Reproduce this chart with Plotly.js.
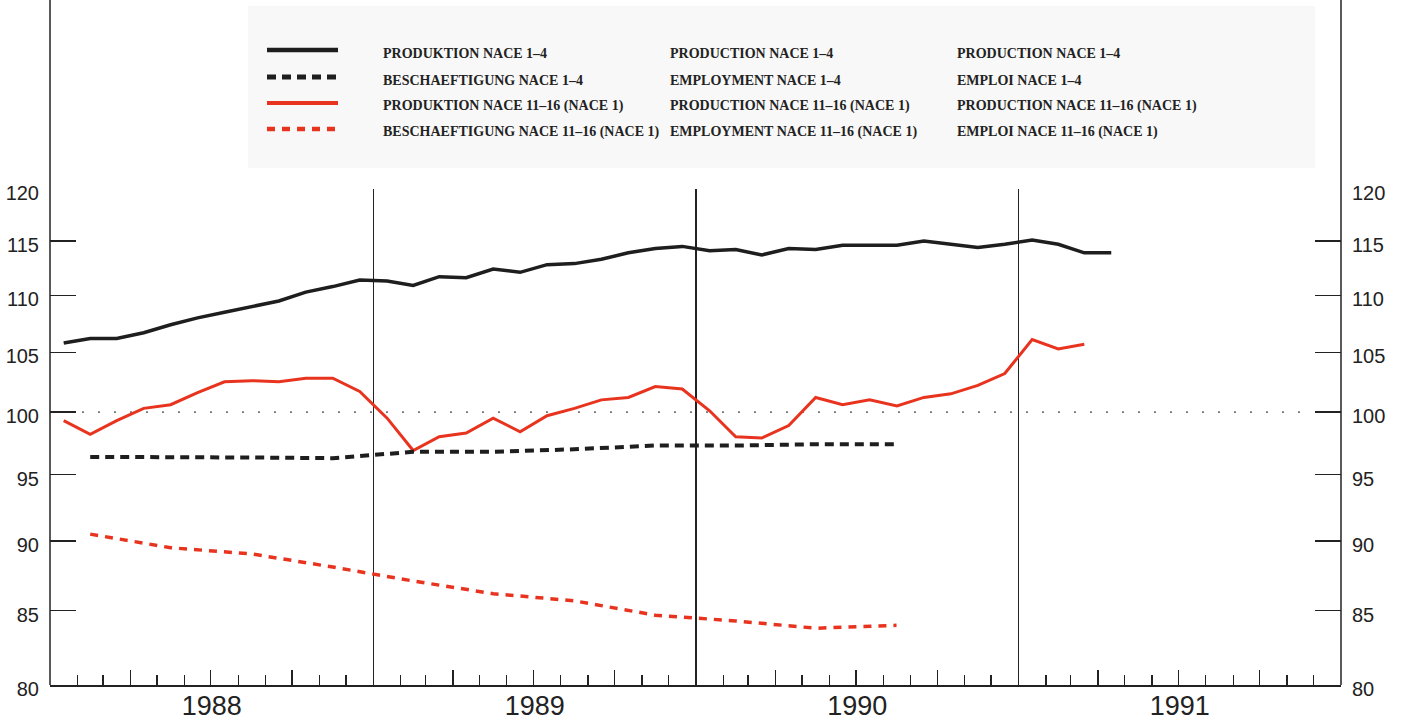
<!DOCTYPE html>
<html><head><meta charset="utf-8">
<script src="https://cdn.plot.ly/plotly-3.0.1.min.js"></script>
<style>html,body{margin:0;padding:0;background:#fff}#chart{width:1401px;height:726px}</style>
</head><body><div id="chart"></div>
<script>
// ---- Data (log-scale index) ----
const prodStartYear = 1988;          // monthly production series start in Jan 1988
const prodNace14 = [105.8,106.2,106.2,106.7,107.4,108.0,108.5,109.0,109.5,110.3,110.8,111.4,
  111.3,110.9,111.7,111.6,112.4,112.1,112.8,112.9,113.3,113.9,114.3,114.5,
  114.1,114.2,113.7,114.3,114.2,114.6,114.6,114.6,115.0,114.7,114.4,114.7,
  115.1,114.7,113.9,113.9];
const prodNace1116 = [99.3,98.2,99.3,100.3,100.6,101.6,102.5,102.6,102.5,102.8,102.8,101.7,
  99.5,96.9,98.0,98.3,99.5,98.4,99.7,100.3,101.0,101.2,102.1,101.9,
  100.1,98.0,97.9,98.9,101.2,100.6,101.0,100.5,101.2,101.5,102.2,103.2,
  106.1,105.3,105.7];
// quarterly employment series, 1988 Q1 .. 1990 Q3
const emplNace14 = [96.4,96.4,96.35,96.3,96.8,96.8,97.0,97.3,97.3,97.4,97.4];
const emplNace1116 = [90.5,89.5,89.05,88.1,87.1,86.2,85.7,84.7,84.3,83.8,84.0];

const yTicks = [80,85,90,95,100,105,110,115,120];
const yMin = 80, yMax = 120, baseLine = 100;
const xRange = ['1988-01-01','1992-01-01'];

const legendRows = [
  ['PRODUKTION NACE 1\u20134','PRODUCTION NACE 1\u20134','PRODUCTION NACE 1\u20134'],
  ['BESCHAEFTIGUNG NACE 1\u20134','EMPLOYMENT NACE 1\u20134','EMPLOI NACE 1\u20134'],
  ['PRODUKTION NACE 11\u201316 (NACE 1)','PRODUCTION NACE 11\u201316 (NACE 1)','PRODUCTION NACE 11\u201316 (NACE 1)'],
  ['BESCHAEFTIGUNG NACE 11\u201316 (NACE 1)','EMPLOYMENT NACE 11\u201316 (NACE 1)','EMPLOI NACE 11\u201316 (NACE 1)']
];

// ---- helpers: period mid-points in ms ----
function midMonth(i){ const a=Date.UTC(prodStartYear,i,1), b=Date.UTC(prodStartYear,i+1,1); return (a+b)/2; }
function midQuarter(i){ const a=Date.UTC(prodStartYear,3*i,1), b=Date.UTC(prodStartYear,3*i+3,1); return (a+b)/2; }

const BLACK='#1e1e1e', RED='#e8341f';
const styles = [
  {color:BLACK, width:3.5, dash:'solid'},
  {color:BLACK, width:4, dash:'9px,6px'},
  {color:RED, width:3, dash:'solid'},
  {color:RED, width:3.5, dash:'8px,7px'}
];

const traces = [
  {x:prodNace14.map((v,i)=>midMonth(i)), y:prodNace14, mode:'lines', line:styles[0], name:legendRows[0][0], xaxis:'x', yaxis:'y'},
  {x:emplNace14.map((v,i)=>midQuarter(i)), y:emplNace14, mode:'lines', line:styles[1], name:legendRows[1][0], xaxis:'x2', yaxis:'y'},
  {x:prodNace1116.map((v,i)=>midMonth(i)), y:prodNace1116, mode:'lines', line:styles[2], name:legendRows[2][0], xaxis:'x', yaxis:'y'},
  {x:emplNace1116.map((v,i)=>midQuarter(i)), y:emplNace1116, mode:'lines', line:styles[3], name:legendRows[3][0], xaxis:'x', yaxis:'y2'}
];

// ---- layout geometry (plot area 50..1341 x 189..685) ----
const L=50, R=1341, T=189, B=685, W=R-L, H=B-T;
const px = X => (X-L)/W;
const py = Y => (B-Y)/H;
const logFrac = v => Math.log10(v/yMin)/Math.log10(yMax/yMin);

const numFont = {family:'Liberation Sans Narrow, Arial Narrow, Liberation Sans, Arial, sans-serif', color:'#222'};
const legFont = {family:'Liberation Serif, Times New Roman, serif', size:14, color:'#222'};

const shapes = [
  {type:'rect', xref:'paper', yref:'paper', x0:px(248), x1:px(1315), y0:py(168), y1:py(6), fillcolor:'#f8f8f8', line:{width:0}, layer:'below'},
  {type:'line', xref:'paper', yref:'paper', x0:0, x1:0, y0:0, y1:py(0), line:{color:'#222', width:1.5}},
  {type:'line', xref:'paper', yref:'paper', x0:1, x1:1, y0:0, y1:py(0), line:{color:'#222', width:1.5}},
  {type:'line', xref:'paper', yref:'paper', x0:px(82), x1:px(1313), y0:logFrac(baseLine), y1:logFrac(baseLine), line:{color:'#777', width:1.8, dash:'2px,14px'}, layer:'below'}
];
const rowY = [50, 77, 103, 129];
const annotations = [];
legendRows.forEach((row,r)=>{
  const st = styles[r];
  shapes.push({type:'line', xref:'paper', yref:'paper', x0:px(267), x1:px(338), y0:py(rowY[r]), y1:py(rowY[r]),
    line:{color:st.color, width:st.width+1, dash:st.dash}});
  [381, 668, 955].forEach((X,c)=>{
    annotations.push({xref:'paper', yref:'paper', x:px(X), y:py(rowY[r]+3), xanchor:'left', yanchor:'middle',
      text:'<b>'+row[c]+'</b>', showarrow:false, font:legFont});
  });
});

const yAxisBase = {type:'log', range:[Math.log10(yMin), Math.log10(yMax)], tickmode:'array', tickvals:yTicks,
  ticktext:yTicks.map(String), ticks:'inside', ticklen:26, tickwidth:1.3, tickcolor:'#222',
  showgrid:false, zeroline:false, showline:false, fixedrange:true,
  tickfont:Object.assign({size:20}, numFont), ticklabelstandoff:10, ticklabelshift:4};

const layout = {
  width:1401, height:726,
  margin:{l:L, r:1401-R, t:T, b:726-B, pad:0},
  paper_bgcolor:'#ffffff', plot_bgcolor:'rgba(0,0,0,0)',
  showlegend:false,
  xaxis:{type:'date', range:xRange, showgrid:false, zeroline:false, showline:true, linecolor:'#222', linewidth:1.5,
    tickmode:'linear', tick0:'1988-01-01', dtick:'M3', ticks:'inside', ticklen:15, tickwidth:1.3, tickcolor:'#222',
    showticklabels:false,
    minor:{tick0:'1988-01-01', dtick:'M1', ticks:'inside', ticklen:10, tickwidth:1.3, tickcolor:'#222', showgrid:false}},
  xaxis2:{type:'date', overlaying:'x', anchor:'y', side:'bottom', range:xRange, tickmode:'linear', tick0:'1988-01-01',
    dtick:'M12', ticklabelmode:'period', tickformat:'%Y', ticks:'', showgrid:true, gridcolor:'#222', gridwidth:1.2,
    showline:false, zeroline:false, tickfont:Object.assign({size:27}, numFont), ticklabelstandoff:2},
  yaxis:Object.assign({side:'left', anchor:'x'}, yAxisBase),
  yaxis2:Object.assign({side:'right', anchor:'x', overlaying:'y'}, yAxisBase),
  shapes:shapes, annotations:annotations
};

Plotly.newPlot('chart', traces, layout, {displayModeBar:false, staticPlot:true});
</script></body></html>
